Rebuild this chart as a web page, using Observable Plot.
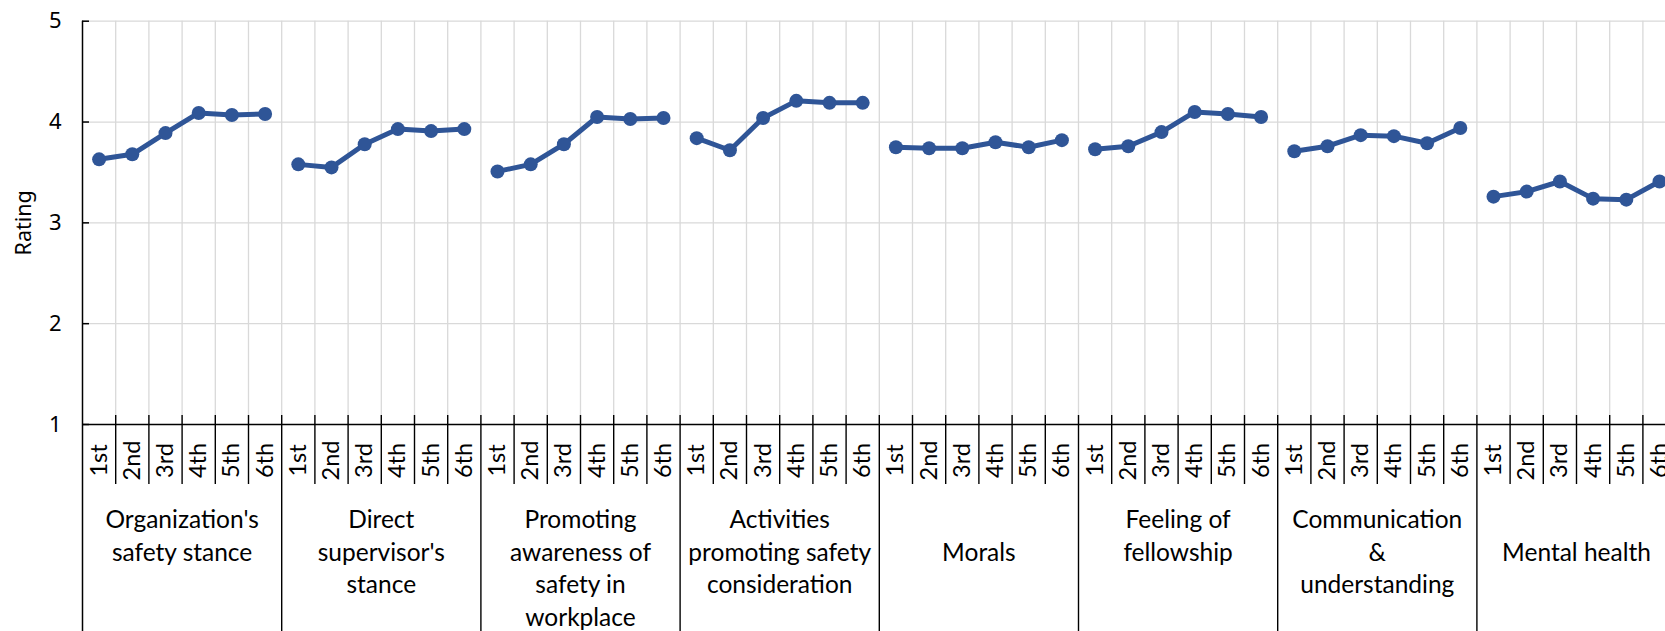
<!DOCTYPE html>
<html>
<head>
<meta charset="utf-8">
<script src="https://cdn.jsdelivr.net/npm/d3@7"></script>
<script src="https://cdn.jsdelivr.net/npm/@observablehq/plot@0.6"></script>
<style>
  html, body { margin: 0; padding: 0; background: #fff; overflow: hidden; }
  #chart svg { display: block; }
</style>
</head>
<body>
<div id="chart"></div>
<script>
// ---- data ----
const groupLabels = [
  "Organization's\nsafety stance",
  "Direct\nsupervisor's\nstance",
  "Promoting\nawareness of\nsafety in\nworkplace",
  "Activities\npromoting safety\nconsideration",
  "Morals",
  "Feeling of\nfellowship",
  "Communication\n&\nunderstanding",
  "Mental health"
];
const rounds = ["1st", "2nd", "3rd", "4th", "5th", "6th"];
const organizationSafetyStance = [3.63, 3.68, 3.89, 4.09, 4.07, 4.08];
const directSupervisorStance   = [3.58, 3.55, 3.78, 3.93, 3.91, 3.93];
const promotingAwareness       = [3.51, 3.58, 3.78, 4.05, 4.03, 4.04];
const activitiesPromoting      = [3.84, 3.72, 4.04, 4.21, 4.19, 4.19];
const morals                   = [3.75, 3.74, 3.74, 3.80, 3.75, 3.82];
const feelingOfFellowship      = [3.73, 3.76, 3.90, 4.10, 4.08, 4.05];
const communication            = [3.71, 3.76, 3.87, 3.86, 3.79, 3.94];
const mentalHealth             = [3.26, 3.31, 3.41, 3.24, 3.23, 3.41];
const yTicks = [1, 2, 3, 4, 5];

const seriesList = [organizationSafetyStance, directSupervisorStance, promotingAwareness,
  activitiesPromoting, morals, feelingOfFellowship, communication, mentalHealth];

// ---- table ----
const nPer = rounds.length;
const rows = [];
seriesList.forEach((vals, g) => vals.forEach((v, r) => rows.push({group: g, round: rounds[r], slot: g * nPer + r, value: v})));
const nSlots = groupLabels.length * nPer;

const labelLines = [];
groupLabels.forEach((lab, g) => {
  const lines = lab.split("\n");
  const offset = lines.length === 1 ? 1 : 0;
  lines.forEach((t, i) => labelLines.push({group: g, line: i + offset, text: t}));
});

const slotW = 33.2, left = 82, axisY = 424, topY = 20.7;
const blue = "#2F5597", grid = "#d9d9d9";
const slotBounds = d3.range(1, nSlots).filter(i => i % nPer !== 0);
const groupBounds = d3.range(nPer, nSlots + 1, nPer);

const chart = Plot.plot({
  width: 1665,
  height: 631,
  marginTop: topY,
  marginBottom: 631 - axisY,
  marginLeft: left,
  marginRight: 0,
  x: {type: "linear", domain: [0, nSlots], range: [left, left + nSlots * slotW], axis: null},
  y: {type: "linear", domain: [1, 5], range: [axisY, topY], axis: null},
  style: {fontFamily: "Lato, sans-serif", background: "white", color: "black"},
  marks: [
    // gridlines
    Plot.ruleY(yTicks.slice(1), {x1: () => 0, x2: () => nSlots, stroke: grid, strokeWidth: 1.3}),
    Plot.ruleX(d3.range(1, nSlots), {y1: () => 5, y2: () => 1, stroke: grid, strokeWidth: 1.3}),
    // data
    Plot.line(rows, {x: d => d.slot + 0.5, y: "value", z: "group", stroke: blue, strokeWidth: 5, strokeLinejoin: "round"}),
    Plot.dot(rows, {x: d => d.slot + 0.5, y: "value", r: 7, fill: blue, stroke: "none"}),
    // axes
    Plot.ruleY([1], {x1: () => 0, x2: () => nSlots, stroke: "black", strokeWidth: 1.6}),
    Plot.ruleX([0], {y1: () => 5, y2: () => 1, insetBottom: -(631 - axisY), stroke: "black", strokeWidth: 1.5}),
    Plot.ruleY(yTicks, {x1: () => 0, x2: () => 0, insetRight: -7, stroke: "black", strokeWidth: 1.5}),
    Plot.ruleX(slotBounds, {y1: () => 1, y2: () => 1, insetTop: -9, insetBottom: -60, stroke: "black", strokeWidth: 1.4}),
    Plot.ruleX(groupBounds, {y1: () => 1, y2: () => 1, insetTop: -9, insetBottom: -(631 - axisY), stroke: "black", strokeWidth: 1.4}),
    // y tick labels and title
    Plot.text(yTicks, {x: () => 0, y: d => d, text: d => String(d), textAnchor: "end", dx: -21, fontSize: 22, fontFamily: "'Noto Sans', sans-serif", fill: "black"}),
    Plot.text(["Rating"], {x: () => 0, y: () => 3, text: d => d, rotate: -90, dx: -58, fontSize: 21.5, fontFamily: "'Noto Sans', sans-serif", fill: "black"}),
    // slot labels
    Plot.text(rows, {x: d => d.slot + 0.5, y: () => 1, text: "round", rotate: -90, dy: 36, fontSize: 23.5, fill: "black"}),
    // group labels, one mark per line position
    ...d3.range(4).map(li => Plot.text(labelLines.filter(d => d.line === li), {
      x: d => d.group * nPer + nPer / 2, y: () => 1, text: "text", lineAnchor: "top",
      dy: 86 + li * 32.7, fontSize: 24.5, fill: "black"
    }))
  ]
});
document.getElementById("chart").appendChild(chart);
</script>
</body>
</html>
